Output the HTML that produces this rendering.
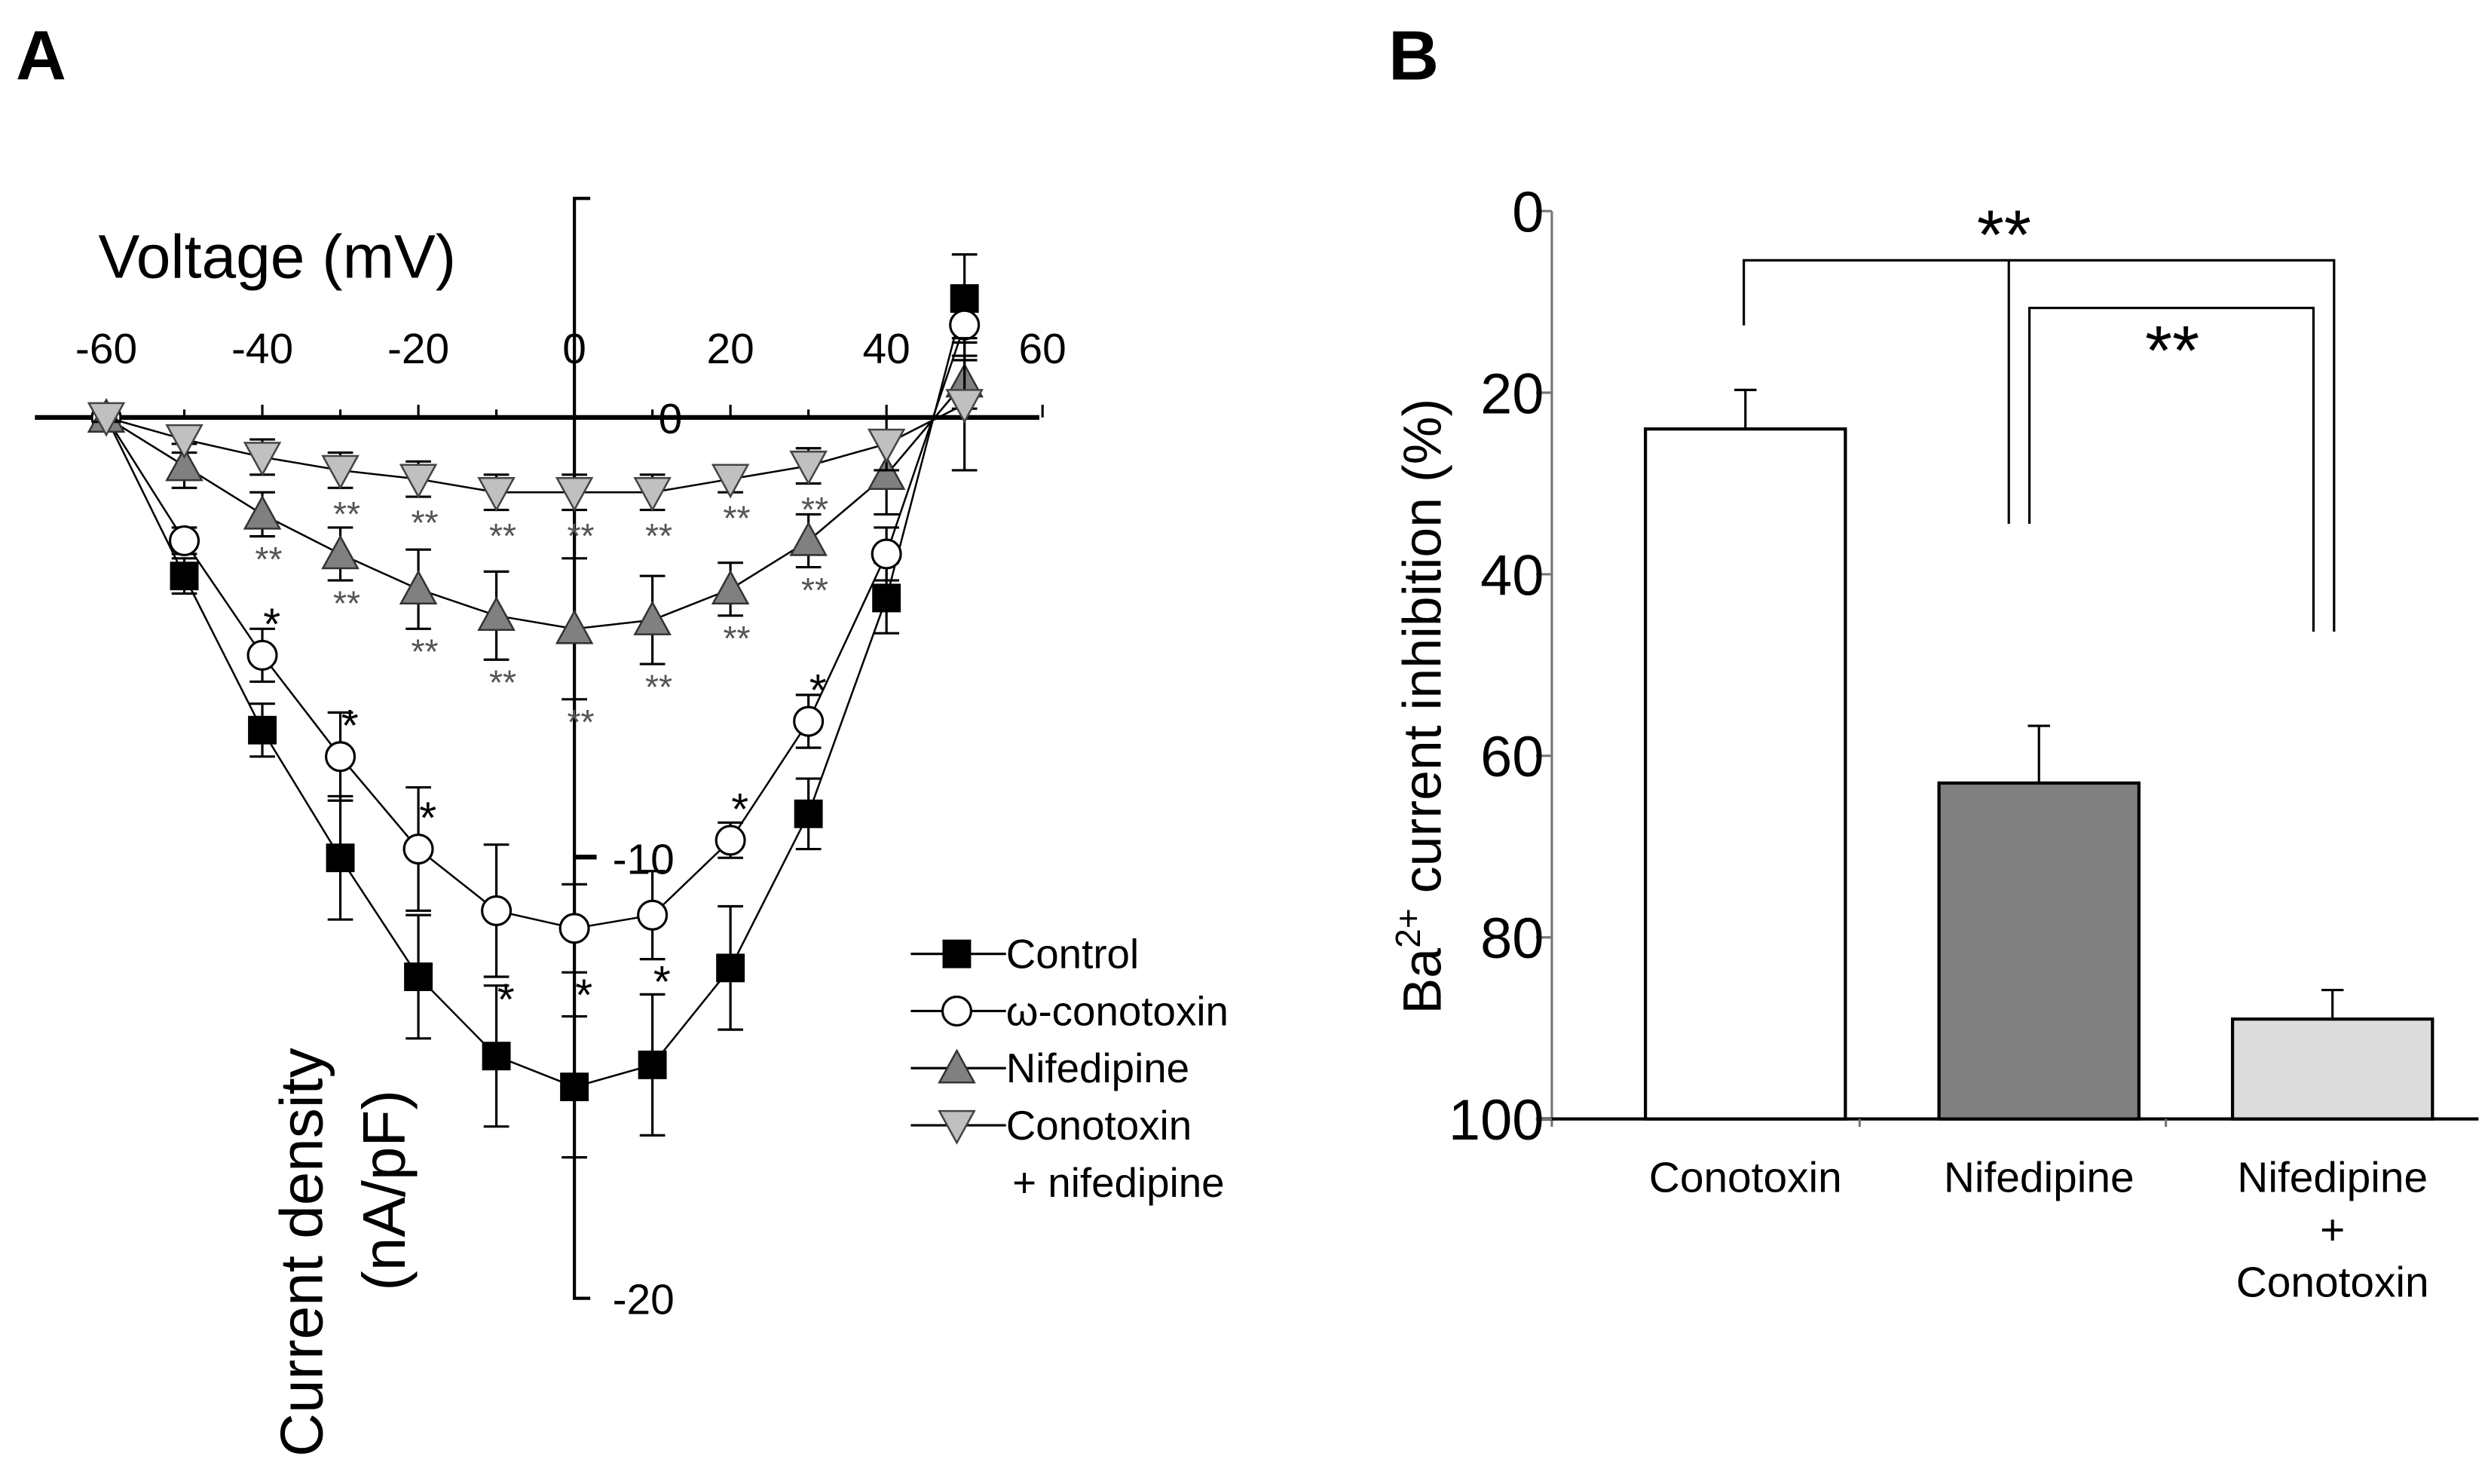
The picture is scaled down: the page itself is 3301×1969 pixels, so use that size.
<!DOCTYPE html>
<html><head><meta charset="utf-8"><style>
html,body{margin:0;padding:0;background:#fff;}
svg{display:block;font-family:"Liberation Sans",Arial,sans-serif;}
</style></head><body>
<svg id="fig" width="3301" height="1969" viewBox="0 0 1568 935" preserveAspectRatio="none">
<g id="pa"></g>
<g id="pb"></g>
</svg>
<script>
const NS="http://www.w3.org/2000/svg";
// ---- Panel A data ----
const voltages=[-60,-50,-40,-30,-20,-10,0,10,20,30,40,50];
const controlVals=[0,-3.6,-7.1,-10.0,-12.7,-14.5,-15.2,-14.7,-12.5,-9.0,-4.1,2.7];
const controlErr=[0.2,0.4,0.6,1.4,1.4,1.6,1.6,1.6,1.4,0.8,0.8,1.0];
const conoVals=[0,-2.8,-5.4,-7.7,-9.8,-11.2,-11.6,-11.3,-9.6,-6.9,-3.1,2.1];
const conoErr=[0.2,0.3,0.6,1.0,1.4,1.5,1.0,1.0,0.4,0.6,0.6,0.8];
const nifVals=[0,-1.1,-2.2,-3.1,-3.9,-4.5,-4.8,-4.6,-3.9,-2.8,-1.3,0.8];
const nifErr=[0.1,0.5,0.5,0.6,0.9,1.0,1.6,1.0,0.6,0.6,0.9,0.6];
const combVals=[0,-0.5,-0.9,-1.2,-1.4,-1.7,-1.7,-1.7,-1.4,-1.1,-0.6,0.3];
const combErr=[0.1,0.3,0.4,0.4,0.4,0.4,0.4,0.4,0.3,0.4,0.6,1.5];
const conoStars=["","","*","*","*","*","*","*","*","*","",""];
const conoStarBelow=[false,false,false,false,false,true,true,true,false,false,false,false];
const nifStars=["","","**","**","**","**","**","**","**","**","",""];
const combStars=["","","","**","**","**","**","**","**","**","",""];
const xTicks=[-60,-40,-20,0,20,40,60];
const yTicks=[0,-10,-20];
// ---- Panel B data ----
const cats=["Conotoxin","Nifedipine","Nifedipine|+|Conotoxin"];
const inhib=[24,63,89];
const inhibErr=[4.3,6.3,3.2];
const barFills=["#ffffff","#808080","#dcdcdc"];
const bTicks=[0,20,40,60,80,100];

function el(tag,attrs,parent,txt){const e=document.createElementNS(NS,tag);for(const k in attrs)e.setAttribute(k,attrs[k]);if(txt!==undefined)e.textContent=txt;parent.appendChild(e);return e;}
const pa=document.getElementById('pa'),pb=document.getElementById('pb');
const X=v=>362+v*4.917, Y=c=>263-c*27.75;

let t=el('text',{x:10,y:50,'font-size':44,'font-weight':'bold'},pa,'A');

t=el('text',{x:875,y:50,'font-size':44,'font-weight':'bold'},pb,'B');


// axes A
let ax=el('line',{x1:22,y1:263,x2:655,y2:263,stroke:'#000','stroke-width':3},pa);

let ay=el('path',{d:'M372 125 L362 125 L362 818 L372 818',stroke:'#000','stroke-width':2,fill:'none'},pa);

el('line',{x1:362,y1:540,x2:376,y2:540,stroke:'#000','stroke-width':3},pa);
xTicks.forEach(v=>{
  el('line',{x1:X(v),y1:263,x2:X(v),y2:255,stroke:'#000','stroke-width':1.5},pa);
  const tl=el('text',{x:X(v),y:229,'font-size':27,'text-anchor':'middle'},pa,String(v));
  
});
[-50,-30,-10,10,30,50].forEach(v=>el('line',{x1:X(v),y1:263,x2:X(v),y2:258,stroke:'#000','stroke-width':1.5},pa));
yTicks.forEach(c=>{
  const tl=el('text',{x:c===0?415:386,y:Y(c)+10,'font-size':27},pa,String(c));
  
});
t=el('text',{x:62,y:175,'font-size':39},pa,'Voltage (mV)');

t=el('text',{x:0,y:0,'font-size':38,'text-anchor':'middle',transform:'translate(203,789) rotate(-90)'},pa,'Current density');

t=el('text',{x:0,y:0,'font-size':38,'text-anchor':'middle',transform:'translate(255,750) rotate(-90)'},pa,'(nA/pF)');


function marker(type,x,y,parent){
  const s=9;
  if(type==='sq') return el('rect',{x:x-s,y:y-s,width:2*s,height:2*s,fill:'#000'},parent);
  if(type==='ci') return el('circle',{cx:x,cy:y,r:s,fill:'#fff',stroke:'#000','stroke-width':1.5},parent);
  if(type==='up') return el('polygon',{points:`${x-11},${y+9} ${x+11},${y+9} ${x},${y-11}`,fill:'#808080',stroke:'#333','stroke-width':1.2},parent);
  return el('polygon',{points:`${x-11},${y-9} ${x+11},${y-9} ${x},${y+11}`,fill:'#c0c0c0',stroke:'#444','stroke-width':1.2},parent);
}
const series=[
  {name:'control',vals:controlVals,err:controlErr,m:'sq',stars:null},
  {name:'conotoxin',vals:conoVals,err:conoErr,m:'ci',stars:conoStars},
  {name:'nifedipine',vals:nifVals,err:nifErr,m:'up',stars:nifStars},
  {name:'combined',vals:combVals,err:combErr,m:'dn',stars:combStars}
];
series.forEach(s=>{
  const g=el('g',{},pa);
  
  const pts=voltages.map((v,i)=>X(v)+','+Y(s.vals[i])).join(' ');
  el('polyline',{points:pts,fill:'none',stroke:'#000','stroke-width':1.2},g);
  voltages.forEach((v,i)=>{
    const x=X(v),y=Y(s.vals[i]),e=s.err[i]*27.75;
    const eb=el('path',{d:`M${x} ${y-e} L${x} ${y+e} M${x-8} ${y-e} L${x+8} ${y-e} M${x-8} ${y+e} L${x+8} ${y+e}`,stroke:'#000','stroke-width':1.5,fill:'none'},g);
    
    const mk=marker(s.m,x,y,g);
    
    if(s.stars&&s.stars[i]){
      let dy;
      if(s.m==='ci') dy=conoStarBelow[i]?(y+e+24):(y-10);
      else if(s.m==='up') dy=y+e+22;
      else dy=y+e+24;
      const st=el('text',{x:x+(s.m==='ci'?6:4),y:dy,'font-size':s.stars[i]==='*'?28:22,'text-anchor':'middle',fill:s.m==='ci'?'#000':'#555'},g,s.stars[i]);
      
    }
  });
});
// legend
const legNames=['Control','ω-conotoxin','Nifedipine','Conotoxin'];
const legM=['sq','ci','up','dn'];
const legG=el('g',{},pa);

legNames.forEach((n,i)=>{
  const y=601+i*36;
  const g=el('g',{},legG);
  
  el('line',{x1:574,y1:y,x2:634,y2:y,stroke:'#000','stroke-width':1.5},g);
  marker(legM[i],603,y,g);
  el('text',{x:634,y:y+9,'font-size':26},g,n);
});
el('text',{x:638,y:754,'font-size':26},legG,'+ nifedipine');

// ---- Panel B ----
const BY=p=>133+p*5.72;
el('line',{x1:978,y1:133,x2:978,y2:710,stroke:'#777','stroke-width':1.5},pb);
el('line',{x1:968,y1:705,x2:1562,y2:705,stroke:'#000','stroke-width':2},pb);
[1172,1365].forEach(x=>el('line',{x1:x,y1:705,x2:x,y2:710,stroke:'#777','stroke-width':1.5},pb));
bTicks.forEach(p=>{
  el('line',{x1:968,y1:BY(p),x2:978,y2:BY(p),stroke:'#777','stroke-width':1.5},pb);
  const tl=el('text',{x:973,y:BY(p)+13,'font-size':36,'text-anchor':'end'},pb,String(p));
  
});
t=el('text',{x:0,y:0,'font-size':34,'text-anchor':'middle',transform:'translate(908,445) rotate(-90)'},pb);

el('tspan',{},t,'Ba');el('tspan',{dy:-13,'font-size':22},t,'2+');el('tspan',{dy:13},t,' current inhibition (%)');
cats.forEach((c,i)=>{
  const x0=1037+i*185, w=126, y=BY(inhib[i]);
  const b=el('rect',{x:x0,y:y,width:w,height:705-y,fill:barFills[i],stroke:'#000','stroke-width':2},pb);
  
  const cx=x0+w/2, ye=BY(inhib[i]-inhibErr[i]);
  const eb=el('path',{d:`M${cx} ${y} L${cx} ${ye} M${cx-7} ${ye} L${cx+7} ${ye}`,stroke:'#000','stroke-width':1.5,fill:'none'},pb);
  
  c.split('|').forEach((ln,j)=>{
    const tl=el('text',{x:cx,y:751+j*33,'font-size':27,'text-anchor':'middle'},pb,ln);
    
  });
});
const br=el('path',{d:'M1099 205 L1099 164 L1471 164 L1471 398 M1266 164 L1266 330 M1279 330 L1279 194 L1458 194 L1458 398',stroke:'#000','stroke-width':1.5,fill:'none'},pb);

t=el('text',{x:1263,y:163,'font-size':44,'text-anchor':'middle'},pb,'**');

t=el('text',{x:1369,y:236,'font-size':44,'text-anchor':'middle'},pb,'**');

</script>
</body></html>
